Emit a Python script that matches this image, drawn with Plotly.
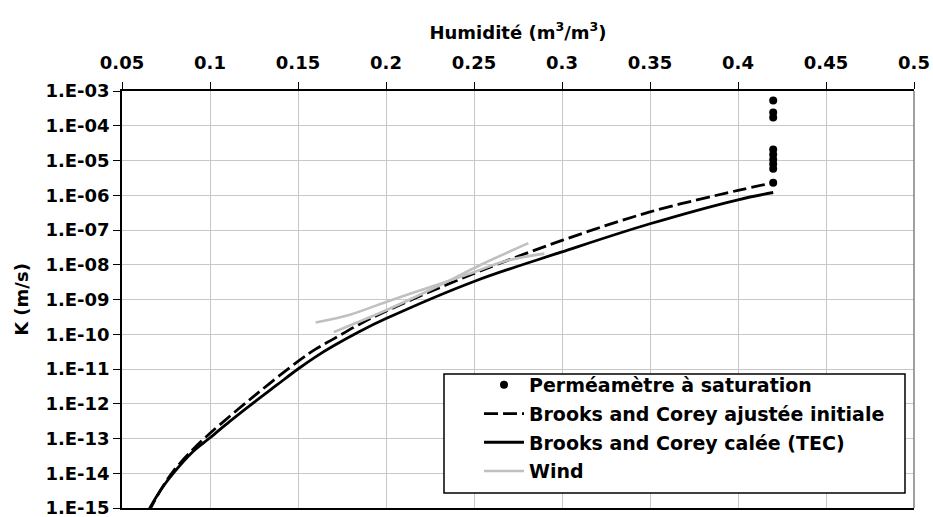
import plotly.graph_objects as go

# ---- data ----
theta_sat = [0.42, 0.42, 0.42, 0.42, 0.42, 0.42, 0.42, 0.42, 0.42]
k_sat = [5.3e-4, 2.4e-4, 1.72e-4, 2.06e-5, 1.48e-5, 1.06e-5, 7.9e-6, 5.8e-6, 2.3e-6]

theta_bc_init = [0.065, 0.0695, 0.074, 0.079, 0.090, 0.100, 0.125, 0.150, 0.160, 0.170, 0.185,
                 0.200, 0.250, 0.300, 0.350, 0.400, 0.420]
k_bc_init = [7.41e-16, 2.0e-15, 4.79e-15, 1.12e-14, 4.68e-14, 1.41e-13, 1.66e-12, 1.66e-11,
             3.72e-11, 7.24e-11, 1.95e-10, 4.62e-10, 5.62e-9, 5.01e-8, 3.31e-7, 1.38e-6, 2.29e-6]

theta_bc_cal = [0.064, 0.070, 0.0745, 0.0791, 0.0898, 0.100, 0.1114, 0.125, 0.138, 0.150, 0.160,
                0.170, 0.185, 0.200, 0.250, 0.300, 0.350, 0.400, 0.420]
k_bc_cal = [6.9e-16, 2.29e-15, 5.0e-15, 1.0e-14, 3.98e-14, 1.05e-13, 3.16e-13, 1.1e-12, 3.47e-12,
            1.0e-11, 2.24e-11, 4.57e-11, 1.2e-10, 2.82e-10, 3.31e-9, 2.34e-8, 1.51e-7, 7.41e-7, 1.2e-6]

theta_wind_a = [0.160, 0.180, 0.200, 0.2235, 0.245, 0.269, 0.290]
k_wind_a = [2.19e-10, 3.72e-10, 8.5e-10, 2.14e-9, 5.0e-9, 1.32e-8, 2.09e-8]

theta_wind_b = [0.1703, 0.2007, 0.2311, 0.2539, 0.2809]
k_wind_b = [1.15e-10, 5.05e-10, 2.65e-9, 1.0e-8, 4.2e-8]

x_tickvals = [0.05, 0.1, 0.15, 0.2, 0.25, 0.3, 0.35, 0.4, 0.45, 0.5]
x_ticktext = ["0.05", "0.1", "0.15", "0.2", "0.25", "0.3", "0.35", "0.4", "0.45", "0.5"]
y_tickvals = [1e-15, 1e-14, 1e-13, 1e-12, 1e-11, 1e-10, 1e-9, 1e-8, 1e-7, 1e-6, 1e-5, 1e-4, 1e-3]
y_ticktext = ["1.E-15", "1.E-14", "1.E-13", "1.E-12", "1.E-11", "1.E-10", "1.E-09",
              "1.E-08", "1.E-07", "1.E-06", "1.E-05", "1.E-04", "1.E-03"]

FONT = "DejaVu Sans"
FS = 18

# plot-area geometry (pixels) used to place the legend frame
L, R, T, B = 122, 914, 91, 508
W, H = R - L, B - T


def bold(size=FS):
    return dict(family=FONT, size=size, color="black", weight="bold")


fig = go.Figure()
fig.add_trace(go.Scatter(
    x=theta_sat, y=k_sat, mode="markers", name="Perméamètre à saturation",
    legendgroup="g1", marker=dict(color="black", size=8), cliponaxis=False))
fig.add_trace(go.Scatter(
    x=theta_bc_init, y=k_bc_init, mode="lines", name="Brooks and Corey ajustée initiale",
    legendgroup="g2", line=dict(color="black", width=2.8, dash="14px,5px", shape="spline")))
fig.add_trace(go.Scatter(
    x=theta_bc_cal, y=k_bc_cal, mode="lines", name="Brooks and Corey calée (TEC)",
    legendgroup="g3", line=dict(color="black", width=2.8, shape="spline")))
fig.add_trace(go.Scatter(
    x=theta_wind_a, y=k_wind_a, mode="lines", name="Wind",
    legendgroup="g4", line=dict(color="#c0c0c0", width=2.6, shape="spline")))
fig.add_trace(go.Scatter(
    x=theta_wind_b, y=k_wind_b, mode="lines", name="Wind", showlegend=False,
    legendgroup="g4", line=dict(color="#c0c0c0", width=2.6, shape="spline")))

fig.update_layout(
    width=933, height=517,
    margin=dict(l=L, r=933 - R, t=T, b=517 - B, autoexpand=False),
    paper_bgcolor="white", plot_bgcolor="white",
    font=bold(),
    showlegend=True,
    legend=dict(
        x=(479 - L) / W, xanchor="left", y=(B - 366) / H, yanchor="top",
        bgcolor="rgba(0,0,0,0)", borderwidth=0,
        font=bold(19), itemwidth=40, tracegroupgap=1, traceorder="grouped",
    ),
)

fig.update_xaxes(
    side="top", range=[0.05, 0.5], tickvals=x_tickvals, ticktext=x_ticktext,
    showgrid=True, gridcolor="#c8c8c8", gridwidth=1,
    showline=True, linecolor="black", linewidth=1.5, mirror=True,
    ticks="outside", ticklen=7, tickcolor="black", tickwidth=1,
    ticklabelstandoff=6, ticklabeloverflow="allow",
    tickfont=bold(),
    title=dict(text="Humidité (m<sup>3</sup>/m<sup>3</sup>)", standoff=8, font=bold()),
    zeroline=False, automargin=False,
)
fig.update_yaxes(
    type="log", range=[-15, -3], tickvals=y_tickvals, ticktext=y_ticktext,
    showgrid=True, gridcolor="#c8c8c8", gridwidth=1,
    showline=True, linecolor="black", linewidth=1.5,
    ticks="outside", ticklen=7, tickcolor="black", tickwidth=1,
    ticklabeloverflow="allow",
    tickfont=bold(),
    title=dict(text="K (m/s)", standoff=12, font=bold()),
    zeroline=False, automargin=False,
)

# right border of the plot area (grey)
fig.add_shape(type="line", xref="paper", yref="paper", x0=1, x1=1, y0=0, y1=1,
              line=dict(color="#808080", width=1.5))
# legend frame
fig.add_shape(type="rect", xref="paper", yref="paper", layer="above",
              x0=(444 - L) / W, x1=(905 - L) / W, y0=(B - 493) / H, y1=(B - 374) / H,
              fillcolor="white", line=dict(color="black", width=1.5))

fig.write_html("out.html", config={"displayModeBar": False},
               post_script="document.body.style.margin='0px';")
